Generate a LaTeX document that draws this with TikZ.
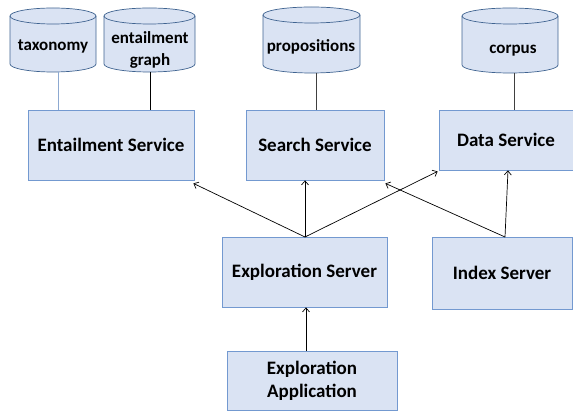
\documentclass[tikz,border=0pt]{standalone}
\usepackage{fontspec}
\setmainfont{Carlito}
\usetikzlibrary{arrows.meta,calc}
\definecolor{boxfill}{HTML}{DAE3F3}
\definecolor{boxline}{HTML}{7399D0}
\definecolor{cylline}{HTML}{3F6390}
\definecolor{lightlink}{HTML}{8DA9D1}
\newcommand{\dbcyl}[4]{% x1, x2, ytop(px), ybottom(px)
  \pgfmathsetmacro{\cxa}{#1}\pgfmathsetmacro{\cxb}{#2}
  \pgfmathsetmacro{\rx}{(#2-#1)/2}
  \pgfmathsetmacro{\yt}{412-#3-8}\pgfmathsetmacro{\yb}{412-#4+8}
  \draw[cylstyle] (\cxa,\yt) -- (\cxa,\yb)
     arc[start angle=180,end angle=360,x radius=\rx pt,y radius=8pt]
     -- (\cxb,\yt)
     arc[start angle=0,end angle=180,x radius=\rx pt,y radius=8pt] -- cycle;
  \draw[cylline,line width=0.7pt] (\cxa,\yt)
     arc[start angle=180,end angle=360,x radius=\rx pt,y radius=8pt];
}
\begin{document}
\begin{tikzpicture}[x=1pt,y=1pt,
  box/.style={draw=boxline,fill=boxfill,line width=0.8pt,font=\bfseries\fontsize{19}{23}\selectfont,align=center,inner sep=0pt},
  cylstyle/.style={draw=cylline,fill=boxfill,line width=0.7pt},
  cyltext/.style={font=\bfseries\fontsize{17}{22}\selectfont,align=center,inner sep=0pt},
  link/.style={line width=0.7pt},
  arr/.style={line width=0.7pt,-{Straight Barb[length=4pt,width=7pt]}}]
\useasboundingbox (0,0) rectangle (573,412);
% cylinders
\dbcyl{10}{96}{8}{72}
\dbcyl{104}{195}{8}{72}
\dbcyl{263}{360}{7}{73}
\dbcyl{462}{558}{8}{73}
\node[cyltext] (tax) at (53,412-46) {taxonomy};
\node[cyltext] (eg) at (150,412-50) {entailment\\graph};
\node[cyltext] (prop) at (311,412-47) {propositions};
\node[cyltext] (corp) at (513,412-51) {corpus};
\coordinate (taxb) at (58,412-72);
\coordinate (egb) at (150,412-72);
\coordinate (propb) at (316,412-73);
\coordinate (corpb) at (514,412-73);
% boxes
\node[box,minimum width=166pt,minimum height=70pt] (es) at (111,412-145) {Entailment Service};
\node[box,minimum width=138pt,minimum height=70pt] (ss) at (315,412-145) {Search Service};
\node[box,minimum width=134pt,minimum height=60pt] (ds) at (506,412-140) {Data Service};
\node[box,minimum width=165pt,minimum height=70pt] (ex) at (304.5,412-272) {Exploration Server};
\node[box,minimum width=140pt,minimum height=72pt] (is) at (502,412-273) {Index Server};
\node[box,minimum width=170pt,minimum height=59pt] (ea) at (312,412-381) {Exploration\\Application};
% database links
\draw[link,lightlink] (taxb) -- (taxb |- es.north);
\draw[link,black] (egb) -- (egb |- es.north);
\draw[link,black!75] (propb) -- (propb |- ss.north);
\draw[link,black!75] (corpb) -- (corpb |- ds.north);
% arrows
\coordinate (exn) at (305,412-237);
\coordinate (isn) at (505,412-237);
\coordinate (ean) at (306,412-351);
\draw[arr] (exn) -- ($(es.south east)+(-1,-3)$);
\draw[arr] (exn) -- (exn |- ss.south);
\draw[arr] (exn) -- ($(ds.south west)+(-1,-1)$);
\draw[arr] (isn) -- ($(ss.south east)+(1,-3)$);
\draw[arr] (isn) -- ($(ds.south)+(2,0)$);
\draw[arr] (ean) -- (ean |- ex.south);
\end{tikzpicture}
\end{document}
